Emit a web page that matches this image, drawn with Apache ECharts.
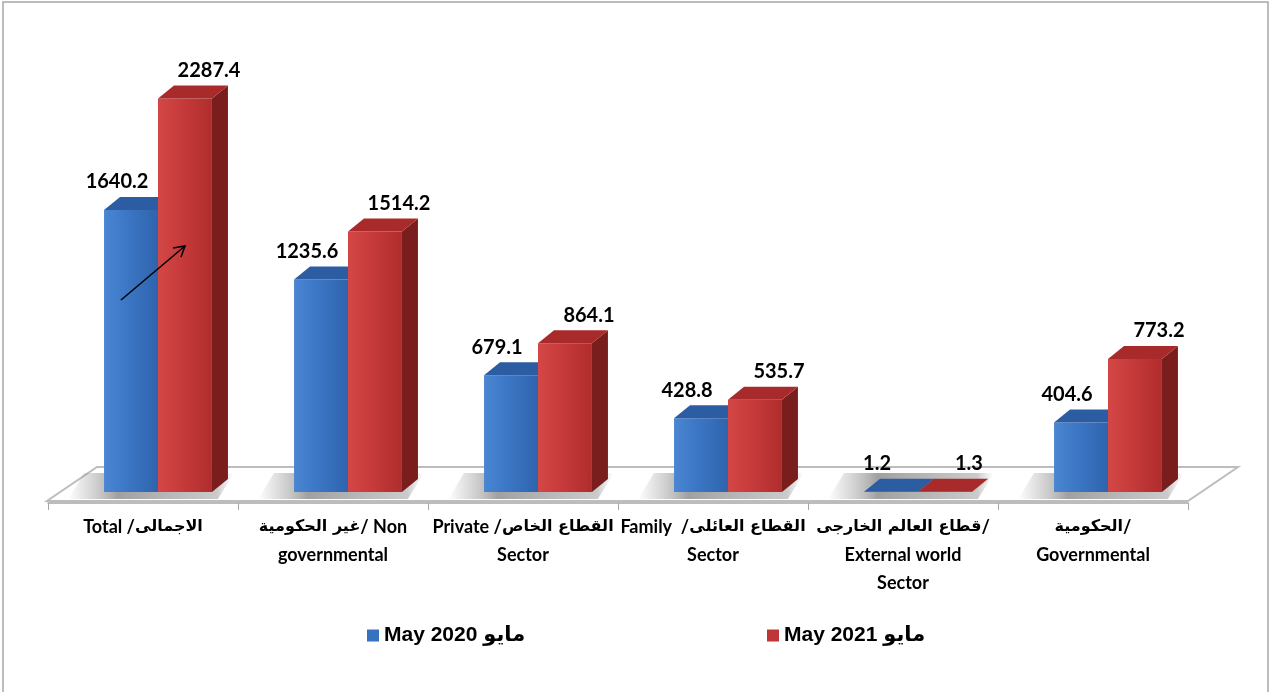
<!DOCTYPE html>
<html>
<head>
<meta charset="utf-8">
<script src="https://cdn.jsdelivr.net/npm/echarts@6/dist/echarts.min.js"></script>
<style>
  html, body { margin: 0; padding: 0; background: #ffffff; }
  #chart { width: 1270px; height: 692px; }
</style>
</head>
<body>
<div id="chart"></div>
<script>
// Sector labels (Arabic / English), each line written in display order
const categories = [
  'Total /الاجمالى',
  'غير الحكومية/ Non\ngovernmental',
  'Private /القطاع الخاص\nSector',
  'Family  /القطاع العائلى\nSector',
  'قطاع العالم الخارجى/\nExternal world\nSector',
  'الحكومية/\nGovernmental'
];
const seriesNames = ['May 2020 مايو', 'May 2021 مايو'];
const may2020 = [1640.2, 1235.6, 679.1, 428.8, 1.2, 404.6];
const may2021 = [2287.4, 1514.2, 864.1, 535.7, 1.3, 773.2];

const FONT = "Lato, 'DejaVu Sans', sans-serif";
const AR_FONT = "'DejaVu Sans', sans-serif";
const DEPTH_X = 16, DEPTH_Y = -13;   // 3D depth of each bar
const SHIFT = 15;                    // bars sit back on the floor, so they shift right
const BAR_FRAC = 0.284;              // bar width as a share of the category band

const palettes = [
  { front: ['#4a86d2', '#3b76c4', '#2f64ad'], top: '#2c5ca2', side: '#1f4578', legend: '#3572bf', labelDx: -14 },
  { front: ['#d44747', '#c63a3a', '#b02d2d'], top: '#a82a2a', side: '#7a1d1d', legend: '#c03535', labelDx: 24 }
];

// Split each line into Arabic and Latin runs so each run gets its own font
const AR_RUN = /([\u0600-\u06FF]+(?:\s+[\u0600-\u06FF]+)*)/;
function richLabel(text) {
  return text.split('\n').map(function (line) {
    return line.split(AR_RUN).filter(function (s) { return s.length; }).map(function (s) {
      return AR_RUN.test(s) ? '{ar|' + s + '}' : '{en|' + s + '}';
    }).join('');
  }).join('\n');
}

function barRender(k) {
  return function (params, api) {
    const idx = api.value(0), val = api.value(1);
    const base = api.coord([idx, 0]);
    const topPt = api.coord([idx, val]);
    const band = api.size([1, 0])[0];
    const w = band * BAR_FRAC;
    const cx = base[0] + SHIFT;
    const x0 = k === 0 ? cx - w : cx;
    const x1 = x0 + w;
    const yb = base[1], yt = topPt[1];
    const p = palettes[k];
    const children = [
      { type: 'polygon', shape: { points: [[x1, yt], [x1 + DEPTH_X, yt + DEPTH_Y], [x1 + DEPTH_X, yb + DEPTH_Y], [x1, yb]] },
        style: { fill: p.side } },
      { type: 'rect', shape: { x: x0, y: yt, width: w, height: Math.max(yb - yt, 0) },
        style: { fill: new echarts.graphic.LinearGradient(0, 0, 1, 0, [
          { offset: 0, color: p.front[0] }, { offset: 0.45, color: p.front[1] }, { offset: 1, color: p.front[2] }]) } },
      { type: 'polygon', shape: { points: [[x0, yt], [x1, yt], [x1 + DEPTH_X, yt + DEPTH_Y], [x0 + DEPTH_X, yt + DEPTH_Y]] },
        style: { fill: p.top } },
      { type: 'text', style: { text: val.toFixed(1), x: (x0 + x1) / 2 + p.labelDx, y: yt - 28,
        align: 'center', verticalAlign: 'middle', fontFamily: FONT, fontWeight: 'bold', fontSize: 20, fill: '#000' } }
    ];
    return { type: 'group', children: children };
  };
}

// Floor slab plus the soft shadow each bar pair casts on it
function floorRender(params, api) {
  const idx = api.value(0);
  const base = api.coord([idx, 0]);
  const band = api.size([1, 0])[0];
  const yb = base[1];
  const children = [];
  if (idx === 0) {
    const L = base[0] - band / 2, R = L + categories.length * band;
    children.push({ type: 'polygon',
      shape: { points: [[L - 1, yb + 9], [R, yb + 9], [R + 50, yb - 25], [L + 49, yb - 25]] },
      style: { fill: '#ffffff', stroke: '#bdbdbd', lineWidth: 2 } });
  }
  const w = band * BAR_FRAC;
  const cx = base[0] + SHIFT;
  const x0 = cx - w, x1 = cx + w;
  // haze to the left of the pair, fading out towards the left
  children.push({ type: 'polygon',
    shape: { points: [[x0 - 36, yb + 7], [x1 + 6, yb + 7], [x1 + DEPTH_X + 6, yb + DEPTH_Y - 6], [x0 + DEPTH_X - 36, yb + DEPTH_Y - 6]] },
    style: { fill: new echarts.graphic.LinearGradient(0, 0, 1, 0, [
      { offset: 0, color: 'rgba(140,140,140,0)' },
      { offset: 0.18, color: 'rgba(140,140,140,0.45)' },
      { offset: 0.3, color: 'rgba(120,120,120,0.7)' },
      { offset: 0.9, color: 'rgba(150,150,150,0.5)' },
      { offset: 1, color: 'rgba(180,180,180,0)' }]) } });
  return { type: 'group', children: children };
}

const legendText = { color: '#000', fontFamily: "'Liberation Sans', 'DejaVu Sans', sans-serif", fontWeight: 'bold', fontSize: 21 };

const chart = echarts.init(document.getElementById('chart'), null, { renderer: 'canvas' });
chart.setOption({
  animation: false,
  backgroundColor: '#ffffff',
  grid: [
    { left: 48, right: 82, top: 62, bottom: 200 },
    { left: 48, right: 82, top: 62, bottom: 189 }
  ],
  xAxis: [
    { type: 'category', gridIndex: 0, data: categories, show: false },
    { type: 'category', gridIndex: 1, data: categories,
      axisLine: { show: true, lineStyle: { color: '#a6a6a6', width: 1.5 } },
      axisTick: { show: true, length: 7, lineStyle: { color: '#a6a6a6' } },
      axisLabel: { interval: 0, margin: 10, color: '#000', lineHeight: 28,
        formatter: richLabel,
        rich: {
          en: { fontFamily: FONT, fontWeight: 'bold', fontSize: 18, lineHeight: 28, color: '#000' },
          ar: { fontFamily: AR_FONT, fontWeight: 'bold', fontSize: 16, lineHeight: 28, color: '#000' }
        } } }
  ],
  yAxis: [
    { type: 'value', gridIndex: 0, min: 0, max: 2500, show: false },
    { type: 'value', gridIndex: 1, min: 0, max: 2500, show: false }
  ],
  legend: [
    { data: [seriesNames[0]], left: 362, top: 620, icon: 'rect', itemWidth: 12, itemHeight: 12, itemGap: 5, textStyle: legendText },
    { data: [seriesNames[1]], left: 762, top: 620, icon: 'rect', itemWidth: 12, itemHeight: 12, itemGap: 5, textStyle: legendText }
  ],
  graphic: [
    { type: 'rect', silent: true, shape: { x: 3, y: 2, width: 1265, height: 700 },
      style: { fill: null, stroke: '#a6a6a6', lineWidth: 1.5 } },
    { type: 'line', silent: true, z: 100, shape: { x1: 121, y1: 300, x2: 185, y2: 246 },
      style: { stroke: '#000', lineWidth: 1.5 } },
    { type: 'polyline', silent: true, z: 100, shape: { points: [[173, 248], [185, 246], [181, 257]] },
      style: { stroke: '#000', lineWidth: 1.5, fill: null } }
  ],
  series: [
    { type: 'custom', name: 'floor', z: 1, xAxisIndex: 0, yAxisIndex: 0, silent: true,
      renderItem: floorRender, data: categories.map((c, i) => [i, 0]) },
    { type: 'custom', name: seriesNames[0], z: 2, xAxisIndex: 0, yAxisIndex: 0,
      itemStyle: { color: palettes[0].legend }, renderItem: barRender(0),
      encode: { x: 0, y: 1 }, data: may2020.map((v, i) => [i, v]) },
    { type: 'custom', name: seriesNames[1], z: 3, xAxisIndex: 0, yAxisIndex: 0,
      itemStyle: { color: palettes[1].legend }, renderItem: barRender(1),
      encode: { x: 0, y: 1 }, data: may2021.map((v, i) => [i, v]) }
  ]
});
</script>
</body>
</html>
